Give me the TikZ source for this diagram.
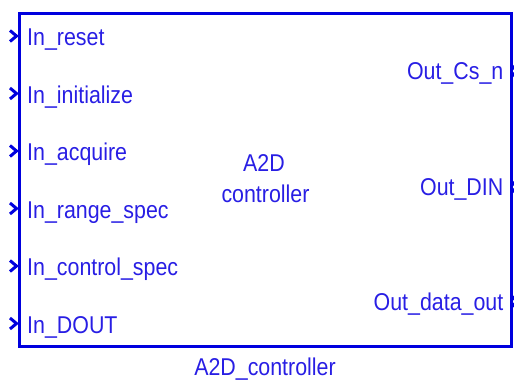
\documentclass[tikz,border=0pt]{standalone}
\usepackage{fontspec}
\setmainfont{Liberation Sans}[FakeStretch=0.88]
\definecolor{blkline}{RGB}{0,0,222}
\definecolor{blktext}{RGB}{40,30,228}
\begin{document}
\begin{tikzpicture}[x=1pt,y=-1pt,
  lbl/.style={inner sep=0pt, text=blktext, font=\fontsize{24.3}{28}\selectfont},
  inport/.style={lbl, anchor=base west},
  outport/.style={lbl, anchor=base east},
  portmark/.style={draw=blkline, line width=3pt, line cap=butt, line join=miter}]
\useasboundingbox (0,0) rectangle (514,382);

% block outline
\coordinate (nw) at (19,13.5);
\coordinate (se) at (511,346.5);
\draw[blkline, line width=3pt] (nw) rectangle (se);

% input ports
\foreach \name/\txt/\yb in {rst/In\_reset/46,
                            ini/In\_initialize/103.5,
                            acq/In\_acquire/161,
                            rng/In\_range\_spec/218.5,
                            ctl/In\_control\_spec/276,
                            dout/In\_DOUT/333.5}{
  \node[inport] (\name) at (27,\yb) {\txt};
  \draw[portmark] (10,\yb-15.5) -- (16.5,\yb-10) -- (10,\yb-4.5);
}

% output ports
\foreach \name/\txt/\yb in {csn/Out\_Cs\_n/80,
                            din/Out\_DIN/196,
                            dat/Out\_data\_out/310.5}{
  \node[outport] (\name) at (503.5,\yb) {\txt};
  \draw[portmark] (512,\yb-14) -- (517,\yb-9) -- (512,\yb-4);
}

% block title inside and name below
\node[lbl, anchor=base] (title) at (264,172) {A2D};
\node[lbl, anchor=base] (title2) at (265.5,203) {controller};
\node[lbl, anchor=base] (bname) at (265,375) {A2D\_controller};
\end{tikzpicture}
\end{document}
